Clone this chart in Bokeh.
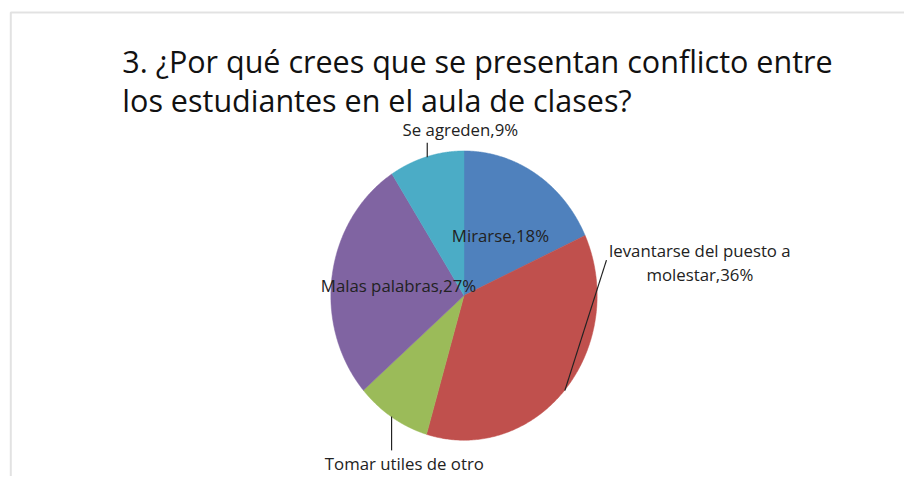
import numpy as np
from bokeh.plotting import figure
from bokeh.models import Range1d, BoxAnnotation
from bokeh.core.properties import value
from bokeh.embed import file_html
from bokeh.resources import INLINE

# ---- data ----
categories = ["Mirarse", "levantarse del puesto a molestar", "Tomar utiles de otro compañero",
              "Malas palabras", "Se agreden"]
counts = [2, 4, 1, 3, 1]
percent_labels = ["18%", "36%", "9%", "27%", "9%"]
colors = ["#4F81BD", "#C0504D", "#9BBB59", "#8064A2", "#4BACC6"]
title_lines = ["3. ¿Por qué crees que se presentan conflicto entre",
               "los estudiantes en el aula de clases?"]

FONT = "Open Sans"
W, H = 904, 476
p = figure(width=W, height=H, output_backend="svg", toolbar_location=None,
           x_range=Range1d(0, 920), y_range=Range1d(492, 0),
           min_border=0)
p.axis.visible = False
p.grid.visible = False
p.outline_line_color = None
p.background_fill_color = "white"
p.border_fill_color = "white"

# frame of the original chart area
p.add_layout(BoxAnnotation(left=10.5, top=12.5, right=2000, bottom=2000,
                           fill_alpha=0, line_color="#A0A0A0", line_width=2))

# pie (slightly elliptical, as in the reference)
cx, cy, rx, ry = 471.7, 305.0, 135.5, 149.5
vals = np.array(counts, dtype=float)
frac = vals / vals.sum()
ends = np.cumsum(frac) * 2 * np.pi
starts = ends - frac * 2 * np.pi
xs, ys = [], []
for a0, a1 in zip(starts, ends):
    t = np.linspace(a0, a1, 200)
    xs.append(np.concatenate([[cx], cx + rx * np.sin(t)]))
    ys.append(np.concatenate([[cy], cy - ry * np.cos(t)]))
p.patches(xs=xs, ys=ys, fill_color=colors, line_color=colors, line_width=0.5)

# leader lines
p.segment(x0=[434.3, 616.7, 398.0], y0=[147.0, 268.3, 430.0],
          x1=[434.3, 574.3, 398.0], y1=[162.0, 403.3, 465.0],
          line_color="#222222", line_width=1.2)

# data labels
lab_text = [f"{categories[0]},{percent_labels[0]}",
            "levantarse del puesto a",
            f"molestar,{percent_labels[1]}",
            "Tomar utiles de otro",
            f"{categories[3]},{percent_labels[3]}",
            f"{categories[4]},{percent_labels[4]}"]
lab_x = [508.8, 711.7, 711.7, 411.0, 405.0, 468.0]
lab_y = [243.3, 258.3, 283.3, 478.5, 295.0, 133.0]
p.text(x=lab_x, y=lab_y, text=lab_text, text_font=value(FONT),
       text_font_size="16.8px", text_color="#222222",
       text_align="center", text_baseline="middle")

# title
p.text(x=[124, 124], y=[62.3, 103.0], text=title_lines, text_font=value(FONT),
       text_font_size="30.5px", text_color="#111111",
       text_align="left", text_baseline="alphabetic")

open("out.html", "w").write(file_html(p, INLINE))
